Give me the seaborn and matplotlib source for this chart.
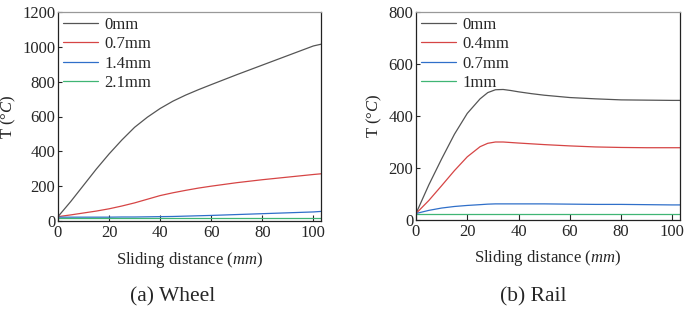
import matplotlib.pyplot as plt
import seaborn as sns
import numpy as np
import pandas as pd

# Wheel (a)
wheel_x = [0, 5, 10, 15, 20, 25, 30, 35, 40, 45, 50, 55, 60, 70, 80, 90, 100, 103]
wheel_0 = [25, 112, 205, 298, 385, 465, 538, 596, 646, 688, 723, 754, 783, 840, 895, 950, 1005, 1015]
wheel_07 = [25, 35, 46, 57, 70, 86, 104, 125, 146, 162, 176, 189, 200, 220, 237, 252, 267, 271]
wheel_14 = [22, 22, 22, 22, 22, 23, 23, 24, 25, 26, 28, 30, 32, 37, 42, 47, 52, 55]
wheel_21 = [20, 20, 20, 20, 20, 20, 20, 20, 20, 20, 20, 20, 20, 20, 20, 20, 20, 20]
wheel_labels = ["0mm", "0.7mm", "1.4mm", "2.1mm"]

# Rail (b)
rail_x = [0, 5, 10, 15, 20, 25, 28, 31, 34, 37, 40, 45, 50, 60, 70, 80, 90, 100, 103]
rail_0 = [25, 135, 235, 330, 410, 466, 490, 501, 502, 498, 493, 486, 480, 471, 466, 462, 461, 460, 460]
rail_04 = [25, 75, 132, 190, 243, 282, 295, 300, 300, 298, 296, 293, 290, 285, 281, 279, 278, 278, 278]
rail_07 = [25, 37, 46, 52, 56, 59, 61, 62, 62, 62, 62, 62, 62, 61, 60, 60, 59, 58, 58]
rail_1 = [25, 25, 25, 25, 25, 25, 25, 25, 25, 25, 25, 25, 25, 25, 25, 25, 25, 25, 25]
rail_labels = ["0mm", "0.4mm", "0.7mm", "1mm"]

colors = ["#555555", "#d64545", "#2f6fc9", "#3fb574"]

sns.set_style("ticks")
plt.rcParams['font.family'] = ['Liberation Serif', 'DejaVu Serif']
plt.rcParams['mathtext.fontset'] = 'custom'
plt.rcParams['mathtext.rm'] = 'Liberation Serif'
plt.rcParams['mathtext.it'] = 'Liberation Serif:italic'

fig = plt.figure(figsize=(6.85, 3.10), dpi=100)
ax1 = fig.add_axes([58/685, 1 - 221/310, (321-58)/685, (221-12)/310])
ax2 = fig.add_axes([416/685, 1 - 220/310, (680-416)/685, (220-12)/310])


def desenha(ax, x, series, labels, ymax, ystep):
    for s, lab, c in zip(series, labels, colors):
        sns.lineplot(x=x, y=s, ax=ax, color=c, linewidth=0.9, label=lab)
    ax.set_xlim(0, 103)
    ax.set_ylim(0, ymax)
    ax.set_xticks(np.arange(0, 101, 20))
    ax.set_yticks(np.arange(0, ymax + 1, ystep))
    ax.tick_params(axis='x', direction='in', length=4, labelsize=12, width=0.8, pad=3)
    ax.tick_params(axis='y', direction='in', length=3, labelsize=12, width=0.8, pad=2)
    for sp in ax.spines.values():
        sp.set_linewidth(0.9)
        sp.set_color("#222222")
    ax.spines['top'].set_color("#999999")
    ax.set_xlabel("Sliding distance ($\\mathit{mm}$)", fontsize=12, labelpad=6)
    ax.set_ylabel("T (°$\\mathit{C}$)", fontsize=12, labelpad=3)
    ax.legend(loc="upper left", frameon=False, fontsize=12, handlelength=2.1,
              handletextpad=0.4, labelspacing=0.2, borderaxespad=0.2, borderpad=0.1)


desenha(ax1, wheel_x, [wheel_0, wheel_07, wheel_14, wheel_21], wheel_labels, 1200, 200)
desenha(ax2, rail_x, [rail_0, rail_04, rail_07, rail_1], rail_labels, 800, 200)

fig.text(173/685, 1 - 297/310, "(a) Wheel", ha="center", va="center", fontsize=15.5)
fig.text(533/685, 1 - 297/310, "(b) Rail", ha="center", va="center", fontsize=15.5)

plt.savefig("out.png", dpi=100)
